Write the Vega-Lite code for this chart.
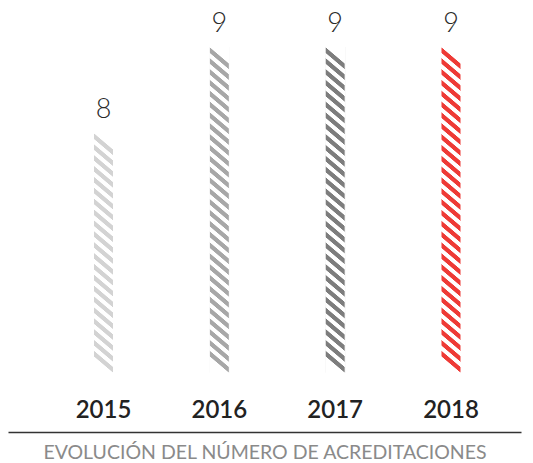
{
  "$schema": "https://vega.github.io/schema/vega-lite/v6.json",
  "width": 513,
  "height": 432,
  "autosize": {"type": "none"},
  "padding": {"left": 8, "top": 0, "right": 12, "bottom": 31},
  "background": "white",
  "config": {"view": {"stroke": null}},
  "data": {"values": [
    {"year": "2015", "value": 8},
    {"year": "2016", "value": 9},
    {"year": "2017", "value": 9},
    {"year": "2018", "value": 9}
  ]},
  "encoding": {
    "x": {
      "field": "year", "type": "nominal", "sort": null,
      "scale": {"paddingInner": 0.8273, "paddingOuter": 0.628, "align": 0.5876},
      "axis": {
        "title": "EVOLUCIÓN DEL NÚMERO DE ACREDITACIONES",
        "labelAngle": 0, "ticks": false, "tickSize": 0, "grid": false,
        "labelPadding": -15, "labelBaseline": "alphabetic",
        "labelFont": "Lato", "labelFontWeight": 600, "labelFontSize": 24, "labelColor": "#222222",
        "domainColor": "#333333", "domainWidth": 1.5,
        "titleFont": "Lato", "titleFontWeight": 400, "titleFontSize": 19.5, "titleColor": "#8a8a8a",
        "titleY": 26, "titleBaseline": "alphabetic"
      }
    },
    "y": {"field": "value", "type": "quantitative", "scale": {"domain": [4.523, 9.546], "nice": false, "zero": false}, "axis": null}
  },
  "layer": [
    {
      "mark": {"type": "bar"},
      "encoding": {
        "y2": {"datum": 5.209},
        "color": {"field": "year", "type": "nominal", "scale": {"domain": ["2015", "2016", "2017", "2018"], "range": ["#d3d3d3", "#a7a7a7", "#7d7d7d", "#ee3a36"]}, "legend": null}
      }
    },
    {
      "transform": [{"filter": "datum.value == 9"}],
      "mark": {"type": "bar", "stroke": "white", "strokeWidth": 1, "fill": {"gradient": "linear", "x1": 0, "y1": 1, "x2": 0.1595, "y2": -2.0592, "stops": [
        {"offset": 0, "color": "#fff"},
        {"offset": 0.0166, "color": "#fff"}, {"offset": 0.0174, "color": "rgba(255,255,255,0)"}, {"offset": 0.0222, "color": "rgba(255,255,255,0)"}, {"offset": 0.0230, "color": "#fff"},
        {"offset": 0.0274, "color": "#fff"}, {"offset": 0.0282, "color": "rgba(255,255,255,0)"}, {"offset": 0.0330, "color": "rgba(255,255,255,0)"}, {"offset": 0.0338, "color": "#fff"},
        {"offset": 0.0383, "color": "#fff"}, {"offset": 0.0391, "color": "rgba(255,255,255,0)"}, {"offset": 0.0439, "color": "rgba(255,255,255,0)"}, {"offset": 0.0447, "color": "#fff"},
        {"offset": 0.0491, "color": "#fff"}, {"offset": 0.0499, "color": "rgba(255,255,255,0)"}, {"offset": 0.0547, "color": "rgba(255,255,255,0)"}, {"offset": 0.0555, "color": "#fff"},
        {"offset": 0.0599, "color": "#fff"}, {"offset": 0.0607, "color": "rgba(255,255,255,0)"}, {"offset": 0.0655, "color": "rgba(255,255,255,0)"}, {"offset": 0.0663, "color": "#fff"},
        {"offset": 0.0708, "color": "#fff"}, {"offset": 0.0716, "color": "rgba(255,255,255,0)"}, {"offset": 0.0764, "color": "rgba(255,255,255,0)"}, {"offset": 0.0772, "color": "#fff"},
        {"offset": 0.0816, "color": "#fff"}, {"offset": 0.0824, "color": "rgba(255,255,255,0)"}, {"offset": 0.0872, "color": "rgba(255,255,255,0)"}, {"offset": 0.0880, "color": "#fff"},
        {"offset": 0.0925, "color": "#fff"}, {"offset": 0.0933, "color": "rgba(255,255,255,0)"}, {"offset": 0.0981, "color": "rgba(255,255,255,0)"}, {"offset": 0.0989, "color": "#fff"},
        {"offset": 0.1033, "color": "#fff"}, {"offset": 0.1041, "color": "rgba(255,255,255,0)"}, {"offset": 0.1089, "color": "rgba(255,255,255,0)"}, {"offset": 0.1097, "color": "#fff"},
        {"offset": 0.1141, "color": "#fff"}, {"offset": 0.1149, "color": "rgba(255,255,255,0)"}, {"offset": 0.1197, "color": "rgba(255,255,255,0)"}, {"offset": 0.1205, "color": "#fff"},
        {"offset": 0.1250, "color": "#fff"}, {"offset": 0.1258, "color": "rgba(255,255,255,0)"}, {"offset": 0.1306, "color": "rgba(255,255,255,0)"}, {"offset": 0.1314, "color": "#fff"},
        {"offset": 0.1358, "color": "#fff"}, {"offset": 0.1366, "color": "rgba(255,255,255,0)"}, {"offset": 0.1414, "color": "rgba(255,255,255,0)"}, {"offset": 0.1422, "color": "#fff"},
        {"offset": 0.1466, "color": "#fff"}, {"offset": 0.1474, "color": "rgba(255,255,255,0)"}, {"offset": 0.1522, "color": "rgba(255,255,255,0)"}, {"offset": 0.1530, "color": "#fff"},
        {"offset": 0.1575, "color": "#fff"}, {"offset": 0.1583, "color": "rgba(255,255,255,0)"}, {"offset": 0.1631, "color": "rgba(255,255,255,0)"}, {"offset": 0.1639, "color": "#fff"},
        {"offset": 0.1683, "color": "#fff"}, {"offset": 0.1691, "color": "rgba(255,255,255,0)"}, {"offset": 0.1739, "color": "rgba(255,255,255,0)"}, {"offset": 0.1747, "color": "#fff"},
        {"offset": 0.1791, "color": "#fff"}, {"offset": 0.1799, "color": "rgba(255,255,255,0)"}, {"offset": 0.1847, "color": "rgba(255,255,255,0)"}, {"offset": 0.1855, "color": "#fff"},
        {"offset": 0.1900, "color": "#fff"}, {"offset": 0.1908, "color": "rgba(255,255,255,0)"}, {"offset": 0.1956, "color": "rgba(255,255,255,0)"}, {"offset": 0.1964, "color": "#fff"},
        {"offset": 0.2008, "color": "#fff"}, {"offset": 0.2016, "color": "rgba(255,255,255,0)"}, {"offset": 0.2064, "color": "rgba(255,255,255,0)"}, {"offset": 0.2072, "color": "#fff"},
        {"offset": 0.2116, "color": "#fff"}, {"offset": 0.2124, "color": "rgba(255,255,255,0)"}, {"offset": 0.2172, "color": "rgba(255,255,255,0)"}, {"offset": 0.2180, "color": "#fff"},
        {"offset": 0.2225, "color": "#fff"}, {"offset": 0.2233, "color": "rgba(255,255,255,0)"}, {"offset": 0.2281, "color": "rgba(255,255,255,0)"}, {"offset": 0.2289, "color": "#fff"},
        {"offset": 0.2333, "color": "#fff"}, {"offset": 0.2341, "color": "rgba(255,255,255,0)"}, {"offset": 0.2389, "color": "rgba(255,255,255,0)"}, {"offset": 0.2397, "color": "#fff"},
        {"offset": 0.2442, "color": "#fff"}, {"offset": 0.2450, "color": "rgba(255,255,255,0)"}, {"offset": 0.2498, "color": "rgba(255,255,255,0)"}, {"offset": 0.2506, "color": "#fff"},
        {"offset": 0.2550, "color": "#fff"}, {"offset": 0.2558, "color": "rgba(255,255,255,0)"}, {"offset": 0.2606, "color": "rgba(255,255,255,0)"}, {"offset": 0.2614, "color": "#fff"},
        {"offset": 0.2658, "color": "#fff"}, {"offset": 0.2666, "color": "rgba(255,255,255,0)"}, {"offset": 0.2714, "color": "rgba(255,255,255,0)"}, {"offset": 0.2722, "color": "#fff"},
        {"offset": 0.2767, "color": "#fff"}, {"offset": 0.2775, "color": "rgba(255,255,255,0)"}, {"offset": 0.2823, "color": "rgba(255,255,255,0)"}, {"offset": 0.2831, "color": "#fff"},
        {"offset": 0.2875, "color": "#fff"}, {"offset": 0.2883, "color": "rgba(255,255,255,0)"}, {"offset": 0.2931, "color": "rgba(255,255,255,0)"}, {"offset": 0.2939, "color": "#fff"},
        {"offset": 0.2983, "color": "#fff"}, {"offset": 0.2991, "color": "rgba(255,255,255,0)"}, {"offset": 0.3039, "color": "rgba(255,255,255,0)"}, {"offset": 0.3047, "color": "#fff"},
        {"offset": 0.3092, "color": "#fff"}, {"offset": 0.3100, "color": "rgba(255,255,255,0)"}, {"offset": 0.3148, "color": "rgba(255,255,255,0)"}, {"offset": 0.3156, "color": "#fff"},
        {"offset": 0.3200, "color": "#fff"}, {"offset": 0.3208, "color": "rgba(255,255,255,0)"}, {"offset": 0.3256, "color": "rgba(255,255,255,0)"}, {"offset": 0.3264, "color": "#fff"},
        {"offset": 1, "color": "#fff"}
      ]}},
      "encoding": {"y2": {"datum": 5.209}}
    },
    {
      "transform": [{"filter": "datum.value == 8"}],
      "mark": {"type": "bar", "stroke": "white", "strokeWidth": 1, "fill": {"gradient": "linear", "x1": 0, "y1": 1, "x2": 0.2937, "y2": -3.1459, "stops": [
        {"offset": 0, "color": "#fff"},
        {"offset": 0.0166, "color": "#fff"}, {"offset": 0.0174, "color": "rgba(255,255,255,0)"}, {"offset": 0.0222, "color": "rgba(255,255,255,0)"}, {"offset": 0.0230, "color": "#fff"},
        {"offset": 0.0275, "color": "#fff"}, {"offset": 0.0283, "color": "rgba(255,255,255,0)"}, {"offset": 0.0331, "color": "rgba(255,255,255,0)"}, {"offset": 0.0339, "color": "#fff"},
        {"offset": 0.0383, "color": "#fff"}, {"offset": 0.0391, "color": "rgba(255,255,255,0)"}, {"offset": 0.0439, "color": "rgba(255,255,255,0)"}, {"offset": 0.0447, "color": "#fff"},
        {"offset": 0.0492, "color": "#fff"}, {"offset": 0.0500, "color": "rgba(255,255,255,0)"}, {"offset": 0.0548, "color": "rgba(255,255,255,0)"}, {"offset": 0.0556, "color": "#fff"},
        {"offset": 0.0601, "color": "#fff"}, {"offset": 0.0609, "color": "rgba(255,255,255,0)"}, {"offset": 0.0657, "color": "rgba(255,255,255,0)"}, {"offset": 0.0665, "color": "#fff"},
        {"offset": 0.0710, "color": "#fff"}, {"offset": 0.0718, "color": "rgba(255,255,255,0)"}, {"offset": 0.0766, "color": "rgba(255,255,255,0)"}, {"offset": 0.0774, "color": "#fff"},
        {"offset": 0.0818, "color": "#fff"}, {"offset": 0.0826, "color": "rgba(255,255,255,0)"}, {"offset": 0.0874, "color": "rgba(255,255,255,0)"}, {"offset": 0.0882, "color": "#fff"},
        {"offset": 0.0927, "color": "#fff"}, {"offset": 0.0935, "color": "rgba(255,255,255,0)"}, {"offset": 0.0983, "color": "rgba(255,255,255,0)"}, {"offset": 0.0991, "color": "#fff"},
        {"offset": 0.1036, "color": "#fff"}, {"offset": 0.1044, "color": "rgba(255,255,255,0)"}, {"offset": 0.1092, "color": "rgba(255,255,255,0)"}, {"offset": 0.1100, "color": "#fff"},
        {"offset": 0.1144, "color": "#fff"}, {"offset": 0.1152, "color": "rgba(255,255,255,0)"}, {"offset": 0.1200, "color": "rgba(255,255,255,0)"}, {"offset": 0.1208, "color": "#fff"},
        {"offset": 0.1253, "color": "#fff"}, {"offset": 0.1261, "color": "rgba(255,255,255,0)"}, {"offset": 0.1309, "color": "rgba(255,255,255,0)"}, {"offset": 0.1317, "color": "#fff"},
        {"offset": 0.1362, "color": "#fff"}, {"offset": 0.1370, "color": "rgba(255,255,255,0)"}, {"offset": 0.1418, "color": "rgba(255,255,255,0)"}, {"offset": 0.1426, "color": "#fff"},
        {"offset": 0.1470, "color": "#fff"}, {"offset": 0.1478, "color": "rgba(255,255,255,0)"}, {"offset": 0.1526, "color": "rgba(255,255,255,0)"}, {"offset": 0.1534, "color": "#fff"},
        {"offset": 0.1579, "color": "#fff"}, {"offset": 0.1587, "color": "rgba(255,255,255,0)"}, {"offset": 0.1635, "color": "rgba(255,255,255,0)"}, {"offset": 0.1643, "color": "#fff"},
        {"offset": 0.1688, "color": "#fff"}, {"offset": 0.1696, "color": "rgba(255,255,255,0)"}, {"offset": 0.1744, "color": "rgba(255,255,255,0)"}, {"offset": 0.1752, "color": "#fff"},
        {"offset": 0.1797, "color": "#fff"}, {"offset": 0.1805, "color": "rgba(255,255,255,0)"}, {"offset": 0.1853, "color": "rgba(255,255,255,0)"}, {"offset": 0.1861, "color": "#fff"},
        {"offset": 0.1905, "color": "#fff"}, {"offset": 0.1913, "color": "rgba(255,255,255,0)"}, {"offset": 0.1961, "color": "rgba(255,255,255,0)"}, {"offset": 0.1969, "color": "#fff"},
        {"offset": 0.2014, "color": "#fff"}, {"offset": 0.2022, "color": "rgba(255,255,255,0)"}, {"offset": 0.2070, "color": "rgba(255,255,255,0)"}, {"offset": 0.2078, "color": "#fff"},
        {"offset": 0.2123, "color": "#fff"}, {"offset": 0.2131, "color": "rgba(255,255,255,0)"}, {"offset": 0.2179, "color": "rgba(255,255,255,0)"}, {"offset": 0.2187, "color": "#fff"},
        {"offset": 0.2231, "color": "#fff"}, {"offset": 0.2239, "color": "rgba(255,255,255,0)"}, {"offset": 0.2287, "color": "rgba(255,255,255,0)"}, {"offset": 0.2295, "color": "#fff"},
        {"offset": 0.2340, "color": "#fff"}, {"offset": 0.2348, "color": "rgba(255,255,255,0)"}, {"offset": 0.2396, "color": "rgba(255,255,255,0)"}, {"offset": 0.2404, "color": "#fff"},
        {"offset": 1, "color": "#fff"}
      ]}},
      "encoding": {"y2": {"datum": 5.209}}
    },
    {
      "mark": {"type": "text", "baseline": "alphabetic", "dy": -15, "font": "Lato", "fontWeight": 300, "fontSize": 27, "color": "#2a2a2a"},
      "encoding": {"text": {"field": "value", "type": "quantitative"}}
    }
  ]
}
